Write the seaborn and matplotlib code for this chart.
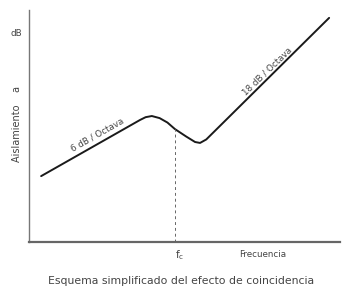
import numpy as np
import matplotlib
matplotlib.use("Agg")
import matplotlib.pyplot as plt
import seaborn as sns

# curva simplificada del aislamiento (unidades arbitrarias)
frecuencia = [0.39, 3.57, 3.75, 3.95, 4.20, 4.45, 4.69, 5.05, 5.34, 5.50, 5.70, 9.65]
aislamiento = [2.84, 5.26, 5.38, 5.43, 5.34, 5.15, 4.87, 4.55, 4.31, 4.27, 4.42, 9.66]
fc = 4.69

etiqueta_y = "Aislamiento    a"
pendientes = ["6 dB / Octava", "18 dB / Octava"]

sns.set_style("white")
plt.rcParams["font.family"] = ["DejaVu Sans"]

fig = plt.figure(figsize=(3.42, 2.93), dpi=100)
ax = fig.add_axes([29 / 342, 51 / 293, 311 / 342, 232 / 293])

sns.lineplot(x=frecuencia, y=aislamiento, sort=False, color="#1a1a1a", linewidth=1.4, ax=ax)

# linea discontinua en la frecuencia de coincidencia
nivel_fc = np.interp(fc, frecuencia, aislamiento)
ax.vlines(fc, 0, nivel_fc, colors="#666666", linestyles=(0, (3, 3)), linewidth=0.7)

ax.set_xlim(0, 10)
ax.set_ylim(0, 10)
ax.set_xticks([])
ax.set_yticks([])
for s in ["top", "right"]:
    ax.spines[s].set_visible(False)
ax.spines["left"].set_color("#777777")
ax.spines["left"].set_linewidth(1.0)
ax.spines["bottom"].set_color("#666666")
ax.spines["bottom"].set_linewidth(1.6)

gris = "#444444"
ax.text(2.2, 4.62, pendientes[0], rotation=29.5, ha="center", va="center",
        rotation_mode="anchor", fontsize=6.3, color=gris)
ax.text(7.66, 7.36, pendientes[1], rotation=44, ha="center", va="center",
        rotation_mode="anchor", fontsize=6.3, color=gris)

fig.text(16 / 342, 1 - 33 / 293, "dB", ha="center", va="center", fontsize=6.3, color=gris)
fig.text(17 / 342, 1 - 124 / 293, etiqueta_y, rotation=90, ha="center", va="center",
         fontsize=7, color=gris)
ax.text(fc + 0.15, -0.55, r"$\mathregular{f_c}$", ha="center", va="center", fontsize=7.5, color=gris)
ax.text(7.5, -0.55, "Frecuencia", ha="center", va="center", fontsize=6.3, color=gris)
fig.text(181 / 342, 1 - 281 / 293, "Esquema simplificado del efecto de coincidencia",
         ha="center", va="center", fontsize=7.8, color=gris)

plt.savefig("out.png", dpi=100)
